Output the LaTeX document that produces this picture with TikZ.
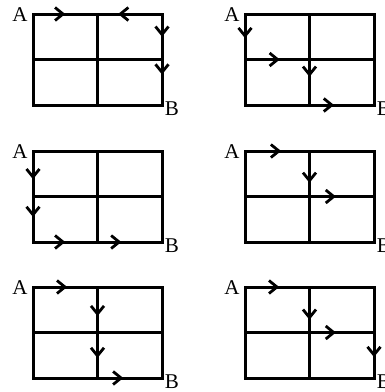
\documentclass[tikz,border=0pt]{standalone}
\usepackage{fontspec}
\setmainfont{Liberation Serif}
\usetikzlibrary{arrows.meta,decorations.markings}
\tikzset{
  gridline/.style={line width=3pt, line join=miter, line cap=rect},
  lbl/.style={inner sep=0pt, font=\fontsize{21}{21}\selectfont},
  arrowat/.style={postaction={decorate}, decoration={markings,
      mark=at position #1 with {\arrow{Straight Barb[length=8pt,width=13pt,line width=2.8pt]}}}},
  pics/gridbox/.style={code={
    \coordinate (-tl) at (0,0);   \coordinate (-tm) at (64.5,0);   \coordinate (-tr) at (129,0);
    \coordinate (-ml) at (0,45.5);\coordinate (-mm) at (64.5,45.5);\coordinate (-mr) at (129,45.5);
    \coordinate (-bl) at (0,91);  \coordinate (-bm) at (64.5,91);  \coordinate (-br) at (129,91);
    \draw[gridline] (-tl) rectangle (-br);
    \draw[gridline] (-tm) -- (-bm);
    \draw[gridline] (-ml) -- (-mr);
    \node[lbl] (-A) at (-13,1) {A};
    \node[lbl] (-B) at (139,95) {B};
  }}
}
\begin{document}
\begin{tikzpicture}[x=1pt,y=-1pt]
\useasboundingbox (0,0) rectangle (384,392);
\pic (g1) at (33,14) {gridbox};
\pic (g2) at (245,14) {gridbox};
\pic (g3) at (33,151) {gridbox};
\pic (g4) at (245,151) {gridbox};
\pic (g5) at (33,287) {gridbox};
\pic (g6) at (245,287) {gridbox};
% grid 1
\draw[gridline,arrowat=0.5] (g1-tl) -- (g1-tm);
\draw[gridline,arrowat=0.68] (g1-tr) -- (g1-tm);
\draw[gridline,arrowat=0.5] (g1-tr) -- (g1-mr);
\draw[gridline,arrowat=0.33] (g1-mr) -- (g1-br);
% grid 2
\draw[gridline,arrowat=0.53] (g2-tl) -- (g2-ml);
\draw[gridline,arrowat=0.54] (g2-ml) -- (g2-mm);
\draw[gridline,arrowat=0.38] (g2-mm) -- (g2-bm);
\draw[gridline,arrowat=0.38] (g2-bm) -- (g2-br);
% grid 3
\draw[gridline,arrowat=0.62] (g3-tl) -- (g3-ml);
\draw[gridline,arrowat=0.45] (g3-ml) -- (g3-bl);
\draw[gridline,arrowat=0.5] (g3-bl) -- (g3-bm);
\draw[gridline,arrowat=0.37] (g3-bm) -- (g3-br);
% grid 4
\draw[gridline,arrowat=0.56] (g4-tl) -- (g4-tm);
\draw[gridline,arrowat=0.70] (g4-tm) -- (g4-mm);
\draw[gridline,arrowat=0.41] (g4-mm) -- (g4-mr);
% grid 5
\draw[gridline,arrowat=0.53] (g5-tl) -- (g5-tm);
\draw[gridline,arrowat=0.64] (g5-tm) -- (g5-mm);
\draw[gridline,arrowat=0.56] (g5-mm) -- (g5-bm);
\draw[gridline,arrowat=0.4] (g5-bm) -- (g5-br);
% grid 6
\draw[gridline,arrowat=0.53] (g6-tl) -- (g6-tm);
\draw[gridline,arrowat=0.72] (g6-tm) -- (g6-mm);
\draw[gridline,arrowat=0.41] (g6-mm) -- (g6-mr);
\draw[gridline,arrowat=0.54] (g6-mr) -- (g6-br);
\end{tikzpicture}
\end{document}
